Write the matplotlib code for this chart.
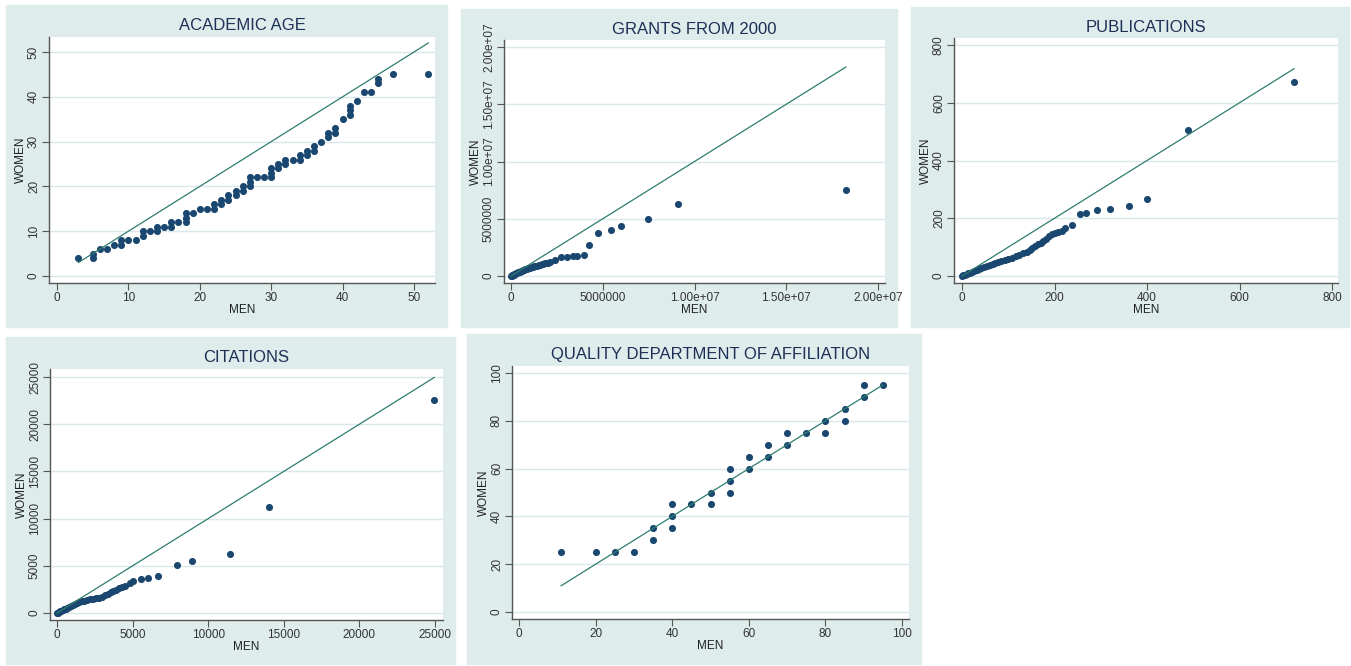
import matplotlib
matplotlib.use("Agg")
import matplotlib.pyplot as plt
from matplotlib.patches import Rectangle

plt.rcParams['font.family'] = ['Liberation Sans', 'DejaVu Sans']

# ---- data: sorted quantiles, men (x) vs women (y) ----
age_men = [3, 5, 5, 6, 7, 8, 9, 9, 10, 11, 12, 12, 13, 14, 14, 15, 16, 16, 17, 18, 18, 18,
           19, 20, 21, 22, 22, 23, 23, 24, 24, 25, 25, 26, 26, 27, 27, 27, 28, 29, 30, 30,
           30, 31, 31, 32, 32, 33, 34, 34, 35, 35, 36, 36, 37, 38, 38, 39, 39, 40, 41, 41,
           41, 42, 43, 44, 45, 45, 47, 52]
age_women = [4, 4, 5, 6, 6, 7, 7, 8, 8, 8, 9, 10, 10, 10, 11, 11, 11, 12, 12, 12, 13, 14,
             14, 15, 15, 15, 16, 16, 17, 17, 18, 18, 19, 19, 20, 20, 21, 22, 22, 22, 22, 23,
             24, 24, 25, 25, 26, 26, 26, 27, 27, 28, 28, 29, 30, 31, 32, 32, 33, 35, 36, 37,
             38, 39, 41, 41, 43, 44, 45, 45]

grants_men = [0, 0.03e6, 0.06e6, 0.10e6, 0.14e6, 0.18e6, 0.22e6, 0.27e6, 0.32e6, 0.37e6,
              0.42e6, 0.48e6, 0.54e6, 0.60e6, 0.66e6, 0.72e6, 0.78e6, 0.85e6, 0.92e6,
              0.99e6, 1.06e6, 1.13e6, 1.20e6, 1.28e6, 1.36e6, 1.44e6, 1.52e6, 1.60e6,
              1.68e6, 1.76e6, 1.85e6, 1.94e6, 2.03e6, 2.13e6, 2.40e6, 2.72e6, 3.07e6,
              3.40e6, 3.58e6, 4.00e6, 4.27e6, 4.76e6, 5.43e6, 5.99e6, 7.45e6, 9.10e6, 1.825e7]
grants_women = [0, 0.03e6, 0.05e6, 0.09e6, 0.13e6, 0.16e6, 0.20e6, 0.24e6, 0.28e6, 0.32e6,
                0.35e6, 0.39e6, 0.43e6, 0.47e6, 0.51e6, 0.55e6, 0.58e6, 0.62e6, 0.66e6,
                0.69e6, 0.72e6, 0.75e6, 0.79e6, 0.83e6, 0.87e6, 0.91e6, 0.95e6, 0.99e6,
                1.03e6, 1.07e6, 1.10e6, 1.13e6, 1.16e6, 1.19e6, 1.40e6, 1.63e6, 1.69e6,
                1.72e6, 1.75e6, 1.86e6, 2.68e6, 3.73e6, 4.02e6, 4.37e6, 5.01e6, 6.33e6, 7.52e6]

pubs_men = [0, 3, 6, 10, 14, 18, 22, 27, 32, 37, 42, 48, 54, 60, 66, 72, 78, 85, 92, 100,
            108, 116, 124, 132, 140, 146, 152, 158, 164, 170, 176, 182, 188, 194, 200, 208,
            216, 223, 237, 255, 268, 291, 321, 360, 401, 488, 718]
pubs_women = [0, 2, 4, 6, 9, 12, 14, 17, 20, 24, 27, 31, 35, 38, 42, 45, 49, 52, 56, 58,
              63, 68, 74, 79, 84, 90, 98, 105, 111, 116, 121, 128, 137, 144, 149, 153,
              156, 165, 177, 215, 219, 228, 232, 241, 268, 506, 671]

cit_men = [0, 50, 120, 200, 290, 380, 480, 580, 690, 800, 920, 1050, 1180, 1320, 1470, 1630,
           1800, 1980, 2160, 2350, 2550, 2750, 2950, 3170, 3400, 3600, 3720, 3900, 4100,
           4280, 4500, 4830, 5030, 5530, 6000, 6710, 7920, 8960, 11470, 14030, 24950]
cit_women = [0, 40, 100, 160, 230, 300, 380, 460, 540, 620, 720, 840, 960, 1070, 1150, 1230,
             1310, 1380, 1440, 1510, 1580, 1640, 1700, 1870, 2050, 2200, 2330, 2480, 2650,
             2790, 2860, 3210, 3390, 3570, 3740, 3920, 5120, 5540, 6290, 11230, 22530]

qual_men = [11, 20, 25, 30, 35, 35, 40, 40, 40, 45, 50, 50, 55, 55, 55, 60, 60, 65, 65, 70,
            70, 75, 80, 80, 85, 85, 90, 90, 95]
qual_women = [25, 25, 25, 25, 30, 35, 35, 40, 45, 45, 45, 50, 50, 55, 60, 60, 65, 65, 70, 70,
              75, 75, 75, 80, 80, 85, 90, 95, 95]

age_ticks = [0, 10, 20, 30, 40, 50]
grants_ticks = [0, 5e6, 1e7, 1.5e7, 2e7]
grants_labels = ['0', '5000000', '1.00e+07', '1.50e+07', '2.00e+07']
pubs_ticks = [0, 200, 400, 600, 800]
cit_ticks = [0, 5000, 10000, 15000, 20000, 25000]
qual_ticks = [0, 20, 40, 60, 80, 100]

# ---- style ----
W, H = 1351, 666
bg = '#dfecec'
grid_col = '#dbe8ea'
dot_col = '#1a476f'
line_col = '#2e7d6f'
title_col = '#1c2f55'
spine_col = '#555555'

fig = plt.figure(figsize=(W / 100, H / 100), dpi=100)
fig.patch.set_facecolor('white')


def panel(bgbox, box, xt, yt, title, xs, ys, xticks, yticks, xlabels=None, ylabels=None):
    # bgbox / box: (left, top, right, bottom) in pixels
    l, t, r, b = bgbox
    fig.patches.append(Rectangle((l / W, 1 - b / H), (r - l) / W, (b - t) / H,
                                 transform=fig.transFigure, color=bg, zorder=-10))
    al, at, ar, ab = box
    aw, ah = ar - al, ab - at
    ax = fig.add_axes([al / W, 1 - ab / H, aw / W, ah / H])
    ax.set_facecolor('white')
    # xt / yt: (value0, pixel0, value1, pixel1) used to set the scale
    v0, p0, v1, p1 = xt
    k = (p1 - p0) / (v1 - v0)
    ax.set_xlim(v0 + (al - p0) / k, v0 + (ar - p0) / k)
    v0, p0, v1, p1 = yt
    k = (p0 - p1) / (v1 - v0)
    ax.set_ylim(v0 + (p0 - ab) / k, v0 + (p0 - at) / k)

    ax.scatter(xs, ys, s=26, color=dot_col, linewidths=0, zorder=3)
    lo, hi = min(xs), max(xs)
    ax.plot([lo, hi], [lo, hi], color=line_col, lw=0.9, zorder=4)

    ax.set_xticks(xticks)
    ax.set_yticks(yticks)
    if xlabels is not None:
        ax.set_xticklabels(xlabels)
    if ylabels is not None:
        ax.set_yticklabels(ylabels)
    ax.tick_params(axis='both', direction='out', length=5, width=0.8, color=spine_col,
                   labelsize=8.5, labelcolor='#333333', pad=1.5)
    for lab in ax.get_yticklabels():
        lab.set_rotation(90)
        lab.set_va('center')
    ax.yaxis.grid(True, color=grid_col, lw=1.0)
    ax.set_axisbelow(True)
    for s in ('top', 'right'):
        ax.spines[s].set_visible(False)
    for s in ('left', 'bottom'):
        ax.spines[s].set_color(spine_col)
        ax.spines[s].set_linewidth(1.0)

    ax.set_xlabel('MEN', fontsize=8.5, color='#222222', va='center')
    ax.set_ylabel('WOMEN', fontsize=8.5, color='#222222', va='center')
    ax.xaxis.set_label_coords(0.5, -27 / ah)
    ax.yaxis.set_label_coords(-28 / aw, 0.5)
    ax.annotate(title, xy=(0.5, 1), xycoords='axes fraction', xytext=(0, 11),
                textcoords='offset pixels', ha='center', va='center',
                fontsize=12, color=title_col)
    return ax


panel((6, 5, 447, 327), (49, 37, 435, 283), (0, 57, 50, 414), (0, 276, 50, 52),
      'ACADEMIC AGE', age_men, age_women, age_ticks, age_ticks)
panel((461, 9, 897, 327), (504, 40, 885, 283), (0, 511, 2e7, 878), (0, 276, 2e7, 47),
      'GRANTS FROM 2000', grants_men, grants_women, grants_ticks, grants_ticks,
      grants_labels, grants_labels)
panel((911, 7, 1349, 327), (954, 38, 1338, 283), (0, 962, 800, 1332), (0, 276, 800, 45),
      'PUBLICATIONS', pubs_men, pubs_women, pubs_ticks, pubs_ticks)
panel((6, 337, 455, 664), (50, 369, 443, 620), (0, 57, 25000, 435), (0, 613, 25000, 377),
      'CITATIONS', cit_men, cit_women, cit_ticks, cit_ticks)
panel((467, 334, 921, 664), (512, 366, 909, 619), (0, 519, 100, 902), (0, 612, 100, 373),
      'QUALITY DEPARTMENT OF AFFILIATION', qual_men, qual_women, qual_ticks, qual_ticks)

fig.savefig('out.png', dpi=100, facecolor=fig.get_facecolor())
